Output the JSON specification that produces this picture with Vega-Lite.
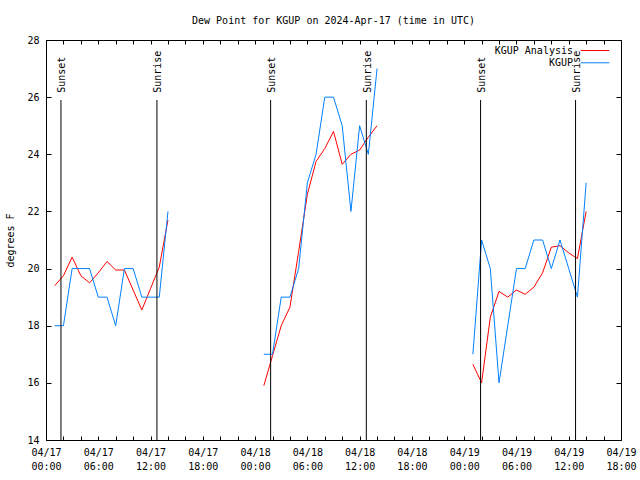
{
  "$schema": "https://vega.github.io/schema/vega-lite/v6.json",
  "width": 575,
  "height": 400,
  "autosize": {"type": "none"},
  "padding": {"left": 46, "top": 40, "right": 19, "bottom": 40},
  "background": "white",
  "title": {"text": "Dew Point for KGUP on 2024-Apr-17 (time in UTC)", "font": "DejaVu Sans Mono", "fontSize": 10, "fontWeight": "normal", "color": "black", "anchor": "middle", "offset": 9},
  "config": {"view": {"stroke": "black", "strokeWidth": 1}},
  "datasets": {
    "obs": [
      {"series": "KGUP Analysis", "day": "d1", "time": "2024-04-17T01:00:00Z", "dewpoint": 19.4},
      {"series": "KGUP Analysis", "day": "d1", "time": "2024-04-17T02:00:00Z", "dewpoint": 19.75},
      {"series": "KGUP Analysis", "day": "d1", "time": "2024-04-17T03:00:00Z", "dewpoint": 20.4},
      {"series": "KGUP Analysis", "day": "d1", "time": "2024-04-17T04:00:00Z", "dewpoint": 19.75},
      {"series": "KGUP Analysis", "day": "d1", "time": "2024-04-17T05:00:00Z", "dewpoint": 19.5},
      {"series": "KGUP Analysis", "day": "d1", "time": "2024-04-17T06:00:00Z", "dewpoint": 19.85},
      {"series": "KGUP Analysis", "day": "d1", "time": "2024-04-17T07:00:00Z", "dewpoint": 20.25},
      {"series": "KGUP Analysis", "day": "d1", "time": "2024-04-17T08:00:00Z", "dewpoint": 19.95},
      {"series": "KGUP Analysis", "day": "d1", "time": "2024-04-17T09:00:00Z", "dewpoint": 19.95},
      {"series": "KGUP Analysis", "day": "d1", "time": "2024-04-17T10:00:00Z", "dewpoint": 19.25},
      {"series": "KGUP Analysis", "day": "d1", "time": "2024-04-17T11:00:00Z", "dewpoint": 18.55},
      {"series": "KGUP Analysis", "day": "d1", "time": "2024-04-17T12:00:00Z", "dewpoint": 19.3},
      {"series": "KGUP Analysis", "day": "d1", "time": "2024-04-17T13:00:00Z", "dewpoint": 20.05},
      {"series": "KGUP Analysis", "day": "d1", "time": "2024-04-17T14:00:00Z", "dewpoint": 21.7},
      {"series": "KGUP Analysis", "day": "d2", "time": "2024-04-18T01:00:00Z", "dewpoint": 15.9},
      {"series": "KGUP Analysis", "day": "d2", "time": "2024-04-18T02:00:00Z", "dewpoint": 16.95},
      {"series": "KGUP Analysis", "day": "d2", "time": "2024-04-18T03:00:00Z", "dewpoint": 18.0},
      {"series": "KGUP Analysis", "day": "d2", "time": "2024-04-18T04:00:00Z", "dewpoint": 18.65},
      {"series": "KGUP Analysis", "day": "d2", "time": "2024-04-18T05:00:00Z", "dewpoint": 20.6},
      {"series": "KGUP Analysis", "day": "d2", "time": "2024-04-18T06:00:00Z", "dewpoint": 22.6},
      {"series": "KGUP Analysis", "day": "d2", "time": "2024-04-18T07:00:00Z", "dewpoint": 23.75},
      {"series": "KGUP Analysis", "day": "d2", "time": "2024-04-18T08:00:00Z", "dewpoint": 24.2},
      {"series": "KGUP Analysis", "day": "d2", "time": "2024-04-18T09:00:00Z", "dewpoint": 24.8},
      {"series": "KGUP Analysis", "day": "d2", "time": "2024-04-18T10:00:00Z", "dewpoint": 23.65},
      {"series": "KGUP Analysis", "day": "d2", "time": "2024-04-18T11:00:00Z", "dewpoint": 24.0},
      {"series": "KGUP Analysis", "day": "d2", "time": "2024-04-18T12:00:00Z", "dewpoint": 24.15},
      {"series": "KGUP Analysis", "day": "d2", "time": "2024-04-18T13:00:00Z", "dewpoint": 24.6},
      {"series": "KGUP Analysis", "day": "d2", "time": "2024-04-18T14:00:00Z", "dewpoint": 25.0},
      {"series": "KGUP Analysis", "day": "d3", "time": "2024-04-19T01:00:00Z", "dewpoint": 16.65},
      {"series": "KGUP Analysis", "day": "d3", "time": "2024-04-19T02:00:00Z", "dewpoint": 16.0},
      {"series": "KGUP Analysis", "day": "d3", "time": "2024-04-19T03:00:00Z", "dewpoint": 18.3},
      {"series": "KGUP Analysis", "day": "d3", "time": "2024-04-19T04:00:00Z", "dewpoint": 19.2},
      {"series": "KGUP Analysis", "day": "d3", "time": "2024-04-19T05:00:00Z", "dewpoint": 19.0},
      {"series": "KGUP Analysis", "day": "d3", "time": "2024-04-19T06:00:00Z", "dewpoint": 19.25},
      {"series": "KGUP Analysis", "day": "d3", "time": "2024-04-19T07:00:00Z", "dewpoint": 19.1},
      {"series": "KGUP Analysis", "day": "d3", "time": "2024-04-19T08:00:00Z", "dewpoint": 19.35},
      {"series": "KGUP Analysis", "day": "d3", "time": "2024-04-19T09:00:00Z", "dewpoint": 19.85},
      {"series": "KGUP Analysis", "day": "d3", "time": "2024-04-19T10:00:00Z", "dewpoint": 20.75},
      {"series": "KGUP Analysis", "day": "d3", "time": "2024-04-19T11:00:00Z", "dewpoint": 20.8},
      {"series": "KGUP Analysis", "day": "d3", "time": "2024-04-19T12:00:00Z", "dewpoint": 20.55},
      {"series": "KGUP Analysis", "day": "d3", "time": "2024-04-19T13:00:00Z", "dewpoint": 20.35},
      {"series": "KGUP Analysis", "day": "d3", "time": "2024-04-19T14:00:00Z", "dewpoint": 22.0},
      {"series": "KGUP", "day": "d1", "time": "2024-04-17T01:00:00Z", "dewpoint": 18},
      {"series": "KGUP", "day": "d1", "time": "2024-04-17T02:00:00Z", "dewpoint": 18},
      {"series": "KGUP", "day": "d1", "time": "2024-04-17T03:00:00Z", "dewpoint": 20},
      {"series": "KGUP", "day": "d1", "time": "2024-04-17T04:00:00Z", "dewpoint": 20},
      {"series": "KGUP", "day": "d1", "time": "2024-04-17T05:00:00Z", "dewpoint": 20},
      {"series": "KGUP", "day": "d1", "time": "2024-04-17T06:00:00Z", "dewpoint": 19},
      {"series": "KGUP", "day": "d1", "time": "2024-04-17T07:00:00Z", "dewpoint": 19},
      {"series": "KGUP", "day": "d1", "time": "2024-04-17T08:00:00Z", "dewpoint": 18},
      {"series": "KGUP", "day": "d1", "time": "2024-04-17T09:00:00Z", "dewpoint": 20},
      {"series": "KGUP", "day": "d1", "time": "2024-04-17T10:00:00Z", "dewpoint": 20},
      {"series": "KGUP", "day": "d1", "time": "2024-04-17T11:00:00Z", "dewpoint": 19},
      {"series": "KGUP", "day": "d1", "time": "2024-04-17T12:00:00Z", "dewpoint": 19},
      {"series": "KGUP", "day": "d1", "time": "2024-04-17T13:00:00Z", "dewpoint": 19},
      {"series": "KGUP", "day": "d1", "time": "2024-04-17T14:00:00Z", "dewpoint": 22},
      {"series": "KGUP", "day": "d2", "time": "2024-04-18T01:00:00Z", "dewpoint": 17},
      {"series": "KGUP", "day": "d2", "time": "2024-04-18T02:00:00Z", "dewpoint": 17},
      {"series": "KGUP", "day": "d2", "time": "2024-04-18T03:00:00Z", "dewpoint": 19},
      {"series": "KGUP", "day": "d2", "time": "2024-04-18T04:00:00Z", "dewpoint": 19},
      {"series": "KGUP", "day": "d2", "time": "2024-04-18T05:00:00Z", "dewpoint": 20},
      {"series": "KGUP", "day": "d2", "time": "2024-04-18T06:00:00Z", "dewpoint": 23},
      {"series": "KGUP", "day": "d2", "time": "2024-04-18T07:00:00Z", "dewpoint": 24},
      {"series": "KGUP", "day": "d2", "time": "2024-04-18T08:00:00Z", "dewpoint": 26},
      {"series": "KGUP", "day": "d2", "time": "2024-04-18T09:00:00Z", "dewpoint": 26},
      {"series": "KGUP", "day": "d2", "time": "2024-04-18T10:00:00Z", "dewpoint": 25},
      {"series": "KGUP", "day": "d2", "time": "2024-04-18T11:00:00Z", "dewpoint": 22},
      {"series": "KGUP", "day": "d2", "time": "2024-04-18T12:00:00Z", "dewpoint": 25},
      {"series": "KGUP", "day": "d2", "time": "2024-04-18T13:00:00Z", "dewpoint": 24},
      {"series": "KGUP", "day": "d2", "time": "2024-04-18T14:00:00Z", "dewpoint": 27},
      {"series": "KGUP", "day": "d3", "time": "2024-04-19T01:00:00Z", "dewpoint": 17},
      {"series": "KGUP", "day": "d3", "time": "2024-04-19T02:00:00Z", "dewpoint": 21},
      {"series": "KGUP", "day": "d3", "time": "2024-04-19T03:00:00Z", "dewpoint": 20},
      {"series": "KGUP", "day": "d3", "time": "2024-04-19T04:00:00Z", "dewpoint": 16},
      {"series": "KGUP", "day": "d3", "time": "2024-04-19T05:00:00Z", "dewpoint": 18},
      {"series": "KGUP", "day": "d3", "time": "2024-04-19T06:00:00Z", "dewpoint": 20},
      {"series": "KGUP", "day": "d3", "time": "2024-04-19T07:00:00Z", "dewpoint": 20},
      {"series": "KGUP", "day": "d3", "time": "2024-04-19T08:00:00Z", "dewpoint": 21},
      {"series": "KGUP", "day": "d3", "time": "2024-04-19T09:00:00Z", "dewpoint": 21},
      {"series": "KGUP", "day": "d3", "time": "2024-04-19T10:00:00Z", "dewpoint": 20},
      {"series": "KGUP", "day": "d3", "time": "2024-04-19T11:00:00Z", "dewpoint": 21},
      {"series": "KGUP", "day": "d3", "time": "2024-04-19T12:00:00Z", "dewpoint": 20},
      {"series": "KGUP", "day": "d3", "time": "2024-04-19T13:00:00Z", "dewpoint": 19},
      {"series": "KGUP", "day": "d3", "time": "2024-04-19T14:00:00Z", "dewpoint": 23}
    ],
    "sun": [
      {"event": "Sunset", "time": "2024-04-17T01:43:00Z"},
      {"event": "Sunrise", "time": "2024-04-17T12:44:00Z"},
      {"event": "Sunset", "time": "2024-04-18T01:47:00Z"},
      {"event": "Sunrise", "time": "2024-04-18T12:46:00Z"},
      {"event": "Sunset", "time": "2024-04-19T01:53:00Z"},
      {"event": "Sunrise", "time": "2024-04-19T12:47:00Z"}
    ]
  },
  "layer": [
    {
      "data": {"name": "obs"},
      "mark": {"type": "line", "strokeWidth": 1},
      "encoding": {
        "x": {
          "field": "time", "type": "temporal",
          "scale": {"type": "utc", "domain": [1713312000000, 1713549600000]},
          "axis": {
            "orient": "bottom", "title": null, "grid": false, "domain": false,
            "values": [1713312000000, 1713319200000, 1713326400000, 1713333600000, 1713340800000, 1713348000000, 1713355200000, 1713362400000, 1713369600000, 1713376800000, 1713384000000, 1713391200000, 1713398400000, 1713405600000, 1713412800000, 1713420000000, 1713427200000, 1713434400000, 1713441600000, 1713448800000, 1713456000000, 1713463200000, 1713470400000, 1713477600000, 1713484800000, 1713492000000, 1713499200000, 1713506400000, 1713513600000, 1713520800000, 1713528000000, 1713535200000, 1713542400000, 1713549600000],
            "tickSize": -4, "tickColor": "black", "tickWidth": 1,
            "labelExpr": "utchours(datum.value) % 6 == 0 ? [utcFormat(datum.value, '%m/%d'), utcFormat(datum.value, '%H:%M')] : ''",
            "labelFont": "DejaVu Sans Mono", "labelFontSize": 10, "labelColor": "black",
            "labelAngle": 0, "labelAlign": "center", "labelBaseline": "top", "labelLineHeight": 14,
            "labelPadding": 11, "labelOverlap": false, "labelFlush": false, "labelBound": false
          }
        },
        "y": {
          "field": "dewpoint", "type": "quantitative",
          "scale": {"domain": [14, 28], "nice": false, "zero": false},
          "axis": {
            "orient": "left", "title": "degrees F", "grid": false, "domain": false,
            "values": [14, 16, 18, 20, 22, 24, 26, 28],
            "tickSize": -5, "tickColor": "black", "tickWidth": 1,
            "labelFont": "DejaVu Sans Mono", "labelFontSize": 10, "labelColor": "black", "labelPadding": 12,
            "titleFont": "DejaVu Sans Mono", "titleFontSize": 10, "titleFontWeight": "normal", "titleColor": "black", "titlePadding": 11
          }
        },
        "color": {
          "field": "series", "type": "nominal",
          "scale": {"domain": ["KGUP Analysis", "KGUP"], "range": ["#ff0000", "#0080ff"]},
          "legend": {
            "orient": "none", "legendX": 542, "legendY": 3.5, "title": null, "padding": 0,
            "symbolType": "M-2.2,0H2.2", "symbolStrokeWidth": 1, "symbolSize": 169,
            "labelFont": "DejaVu Sans Mono", "labelFontSize": 10, "labelColor": "black",
            "labelAlign": "right", "labelOffset": -29, "rowPadding": 0.3,
            "encode": {"symbols": {"update": {"stroke": [{"test": "datum.value === 'KGUP'", "value": "#0080ff"}, {"value": "#ff0000"}], "fill": {"value": "transparent"}, "opacity": {"value": 1}, "strokeOpacity": {"value": 1}}}}
          }
        },
        "detail": {"field": "day", "type": "nominal"}
      }
    },
    {
      "data": {"name": "sun"},
      "mark": {"type": "rule", "color": "black", "strokeWidth": 1},
      "encoding": {
        "x": {
          "field": "time", "type": "temporal",
          "axis": {"orient": "top", "title": null, "labels": false, "grid": false, "domain": false,
            "values": [1713312000000, 1713319200000, 1713326400000, 1713333600000, 1713340800000, 1713348000000, 1713355200000, 1713362400000, 1713369600000, 1713376800000, 1713384000000, 1713391200000, 1713398400000, 1713405600000, 1713412800000, 1713420000000, 1713427200000, 1713434400000, 1713441600000, 1713448800000, 1713456000000, 1713463200000, 1713470400000, 1713477600000, 1713484800000, 1713492000000, 1713499200000, 1713506400000, 1713513600000, 1713520800000, 1713528000000, 1713535200000, 1713542400000, 1713549600000],
            "tickSize": -4, "tickColor": "black"}
        },
        "y": {
          "datum": 14, "type": "quantitative",
          "axis": {"orient": "right", "title": null, "labels": false, "grid": false, "domain": false, "values": [14, 16, 18, 20, 22, 24, 26, 28], "tickSize": -5, "tickColor": "black"}
        },
        "y2": {"datum": 25.9}
      }
    },
    {
      "data": {"name": "sun"},
      "mark": {"type": "text", "angle": 270, "align": "left", "baseline": "middle", "font": "DejaVu Sans Mono", "fontSize": 10, "color": "black", "dy": 1.5},
      "encoding": {
        "x": {"field": "time", "type": "temporal", "axis": null},
        "y": {"datum": 26.15, "type": "quantitative", "axis": null},
        "text": {"field": "event", "type": "nominal"}
      }
    }
  ]
}
